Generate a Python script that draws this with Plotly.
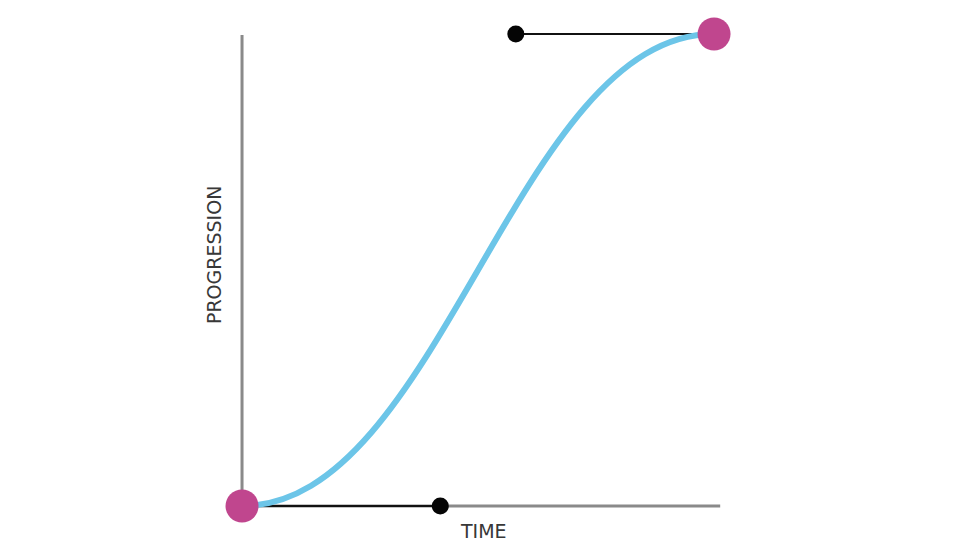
import plotly.graph_objects as go

# cubic bezier easing curve (ease-in-out)
ctrl_x = [0.0, 0.42, 0.58, 1.0]
ctrl_y = [0.0, 0.0, 1.0, 1.0]

end_x = [ctrl_x[0], ctrl_x[3]]
end_y = [ctrl_y[0], ctrl_y[3]]
handle_x = [ctrl_x[1], ctrl_x[2]]
handle_y = [ctrl_y[1], ctrl_y[2]]

axis_x_end = 1.013
axis_y_end = 0.998

x_title = "TIME"
y_title = "PROGRESSION"

fig = go.Figure()

path = "M {},{} C {},{} {},{} {},{}".format(
    ctrl_x[0], ctrl_y[0], ctrl_x[1], ctrl_y[1],
    ctrl_x[2], ctrl_y[2], ctrl_x[3], ctrl_y[3])

shapes = [
    # axes
    dict(type="line", x0=0, y0=0, x1=axis_x_end, y1=0,
         line=dict(color="#8a8a8a", width=3), layer="below"),
    dict(type="line", x0=0, y0=0, x1=0, y1=axis_y_end,
         line=dict(color="#8a8a8a", width=3), layer="below"),
    # handles
    dict(type="line", x0=ctrl_x[0], y0=ctrl_y[0], x1=ctrl_x[1], y1=ctrl_y[1],
         line=dict(color="#111111", width=2), layer="below"),
    dict(type="line", x0=ctrl_x[2], y0=ctrl_y[2], x1=ctrl_x[3], y1=ctrl_y[3],
         line=dict(color="#111111", width=2), layer="below"),
    # curve
    dict(type="path", path=path, line=dict(color="#6cc5e8", width=6),
         layer="below"),
]

fig.add_trace(go.Scatter(
    x=handle_x, y=handle_y, mode="markers",
    marker=dict(size=17, color="#050505"), hoverinfo="skip"))
fig.add_trace(go.Scatter(
    x=end_x, y=end_y, mode="markers",
    marker=dict(size=33, color="#c0468e"), hoverinfo="skip"))

fig.update_layout(
    width=960, height=560,
    margin=dict(l=0, r=0, t=0, b=0),
    paper_bgcolor="white", plot_bgcolor="white",
    showlegend=False,
    shapes=shapes,
    xaxis=dict(range=[-0.4958, 1.538], visible=False, fixedrange=True),
    yaxis=dict(range=[-0.1314, 1.0551], visible=False, fixedrange=True),
    annotations=[
        dict(text=x_title, x=0.512, y=-0.054, xref="x", yref="y",
             showarrow=False,
             font=dict(family="DejaVu Sans", size=19, color="#383838")),
        dict(text=y_title, x=-0.059, y=0.532, xref="x", yref="y",
             textangle=-90, showarrow=False,
             font=dict(family="DejaVu Sans", size=19, color="#383838")),
    ],
)

fig.write_html("out.html")
